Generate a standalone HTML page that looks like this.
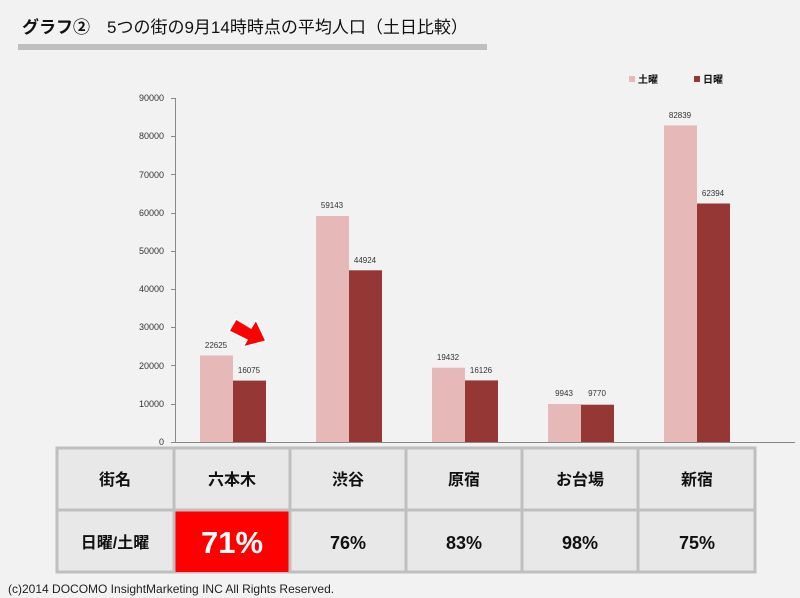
<!DOCTYPE html>
<html><head><meta charset="utf-8"><style>
body{margin:0;background:#f2f2f2;}
svg{display:block;font-family:"Liberation Sans","Noto Sans CJK JP",sans-serif;}
</style></head><body>
<svg width="800" height="598" viewBox="0 0 800 598">
<rect width="800" height="598" fill="#f2f2f2"/>
<text x="22" y="33" font-size="17" fill="#111"><tspan font-weight="bold">グラフ②</tspan>　5つの街の9月14時時点の平均人口（土日比較）</text>
<rect x="18" y="44" width="469" height="6" fill="#bfbfbf"/>
<rect x="629" y="76" width="6" height="6" fill="#e6b9b8"/>
<text x="638" y="83" font-size="10" font-weight="bold" fill="#111">土曜</text>
<rect x="694" y="76" width="6" height="6" fill="#953735"/>
<text x="703" y="83" font-size="10" font-weight="bold" fill="#111">日曜</text>
<g font-size="9" fill="#333" text-anchor="end">
<text x="164" y="101">90000</text><text x="164" y="139">80000</text><text x="164" y="178">70000</text>
<text x="164" y="216">60000</text><text x="164" y="254">50000</text><text x="164" y="292">40000</text>
<text x="164" y="330">30000</text><text x="164" y="369">20000</text><text x="164" y="407">10000</text>
<text x="164" y="445">0</text>
</g>
<g stroke="#888" stroke-width="1">
<line x1="175.5" y1="98" x2="175.5" y2="442"/>
<line x1="171" y1="98.5" x2="175" y2="98.5"/><line x1="171" y1="136.5" x2="175" y2="136.5"/>
<line x1="171" y1="174.5" x2="175" y2="174.5"/><line x1="171" y1="213.5" x2="175" y2="213.5"/>
<line x1="171" y1="251.5" x2="175" y2="251.5"/><line x1="171" y1="289.5" x2="175" y2="289.5"/>
<line x1="171" y1="327.5" x2="175" y2="327.5"/><line x1="171" y1="365.5" x2="175" y2="365.5"/>
<line x1="171" y1="404.5" x2="175" y2="404.5"/><line x1="171" y1="442.5" x2="175" y2="442.5"/>
</g>
<g>
<rect x="200" y="355.5" width="33" height="86.5" fill="#e6b9b8"/>
<rect x="233" y="380.6" width="33" height="61.4" fill="#953735"/>
<rect x="316" y="216" width="33" height="226" fill="#e6b9b8"/>
<rect x="349" y="270.3" width="33" height="171.7" fill="#953735"/>
<rect x="432" y="367.7" width="33" height="74.3" fill="#e6b9b8"/>
<rect x="465" y="380.4" width="33" height="61.6" fill="#953735"/>
<rect x="548" y="404" width="33" height="38" fill="#e6b9b8"/>
<rect x="581" y="404.7" width="33" height="37.3" fill="#953735"/>
<rect x="664" y="125.4" width="33" height="316.6" fill="#e6b9b8"/>
<rect x="697" y="203.5" width="33" height="238.5" fill="#953735"/>
</g>
<g font-size="8" fill="#333" text-anchor="middle">
<text x="216" y="348">22625</text><text x="249" y="373">16075</text>
<text x="332" y="208">59143</text><text x="365" y="263">44924</text>
<text x="448" y="360">19432</text><text x="481" y="373">16126</text>
<text x="564" y="396">9943</text><text x="597" y="396">9770</text>
<text x="680" y="118">82839</text><text x="713" y="196">62394</text>
</g>
<line x1="175" y1="442.5" x2="795" y2="442.5" stroke="#888"/>
<polygon points="229,331 236,319 251,328 256,320 266,341 243,347 247,340" fill="#ff0000" stroke="#fff" stroke-width="1.5"/>
<g stroke="#bfbfbf" stroke-width="3">
<rect x="57" y="448" width="698" height="124" fill="#e8e8e8"/>
<rect x="175" y="511" width="115" height="61" fill="#ff0000" stroke="none"/>
<line x1="57" y1="510" x2="755" y2="510"/>
<line x1="174" y1="448" x2="174" y2="572"/><line x1="290" y1="448" x2="290" y2="572"/>
<line x1="406" y1="448" x2="406" y2="572"/><line x1="522" y1="448" x2="522" y2="572"/>
<line x1="638" y1="448" x2="638" y2="572"/>
</g>
<g font-size="16" font-weight="bold" fill="#111" text-anchor="middle">
<text x="115" y="485">街名</text><text x="232" y="485">六本木</text><text x="348" y="485">渋谷</text>
<text x="464" y="485">原宿</text><text x="580" y="485">お台場</text><text x="697" y="485">新宿</text>
<text x="115" y="548">日曜/土曜</text>
<text x="348" y="549" font-size="18">76%</text>
<text x="464" y="549" font-size="18">83%</text>
<text x="580" y="549" font-size="18">98%</text>
<text x="697" y="549" font-size="18">75%</text>
<text x="232" y="553" font-size="31" fill="#fff">71%</text>
</g>
<text x="8" y="593" font-size="12" fill="#222">(c)2014 DOCOMO InsightMarketing INC All Rights Reserved.</text>
</svg>
</body></html>
